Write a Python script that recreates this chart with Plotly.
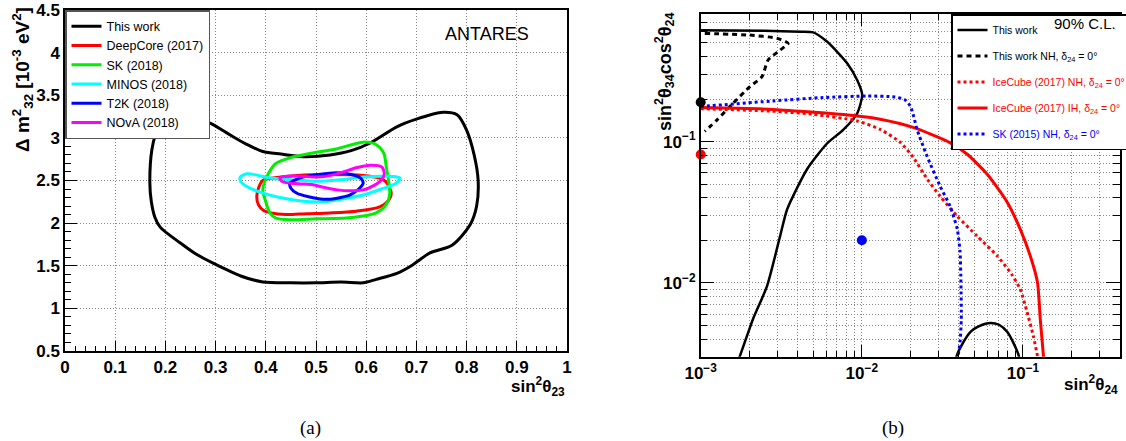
import numpy as np
import plotly.graph_objects as go

# ---------------- Panel (a) data ----------------
this_work_a_x = [0.169, 0.173, 0.180, 0.189, 0.205, 0.229, 0.260, 0.290, 0.330, 0.360, 0.394, 0.430, 0.474,
                 0.528, 0.570, 0.608, 0.661, 0.700, 0.753, 0.781, 0.800, 0.815, 0.823, 0.820, 0.807, 0.771,
                 0.727, 0.690, 0.661, 0.620, 0.594, 0.550, 0.500, 0.450, 0.394, 0.350, 0.295, 0.260, 0.229,
                 0.190, 0.179, 0.172, 0.169]
this_work_a_y = [2.47, 2.86, 3.03, 3.13, 3.21, 3.25, 3.23, 3.17, 3.03, 2.93, 2.84, 2.81, 2.78,
                 2.80, 2.85, 2.94, 3.13, 3.22, 3.30, 3.27, 3.09, 2.80, 2.50, 2.20, 1.98, 1.74,
                 1.65, 1.50, 1.41, 1.34, 1.30, 1.31, 1.30, 1.30, 1.31, 1.38, 1.53, 1.64, 1.77,
                 1.95, 2.07, 2.25, 2.47]

deepcore_x = [0.382, 0.386, 0.394, 0.430, 0.462, 0.530, 0.594, 0.625, 0.640, 0.650, 0.645, 0.627, 0.580,
              0.528, 0.480, 0.440, 0.410, 0.395, 0.385, 0.382]
deepcore_y = [2.31, 2.42, 2.50, 2.54, 2.56, 2.57, 2.56, 2.53, 2.48, 2.35, 2.27, 2.19, 2.14,
              2.12, 2.11, 2.10, 2.12, 2.15, 2.22, 2.31]

sk_x = [0.394, 0.405, 0.420, 0.450, 0.490, 0.540, 0.594, 0.620, 0.635, 0.640, 0.647, 0.640, 0.620,
        0.590, 0.560, 0.500, 0.448, 0.420, 0.408, 0.400, 0.394]
sk_y = [2.39, 2.58, 2.70, 2.77, 2.82, 2.87, 2.95, 2.92, 2.82, 2.66, 2.35, 2.22, 2.12,
        2.08, 2.06, 2.05, 2.04, 2.06, 2.12, 2.25, 2.39]

minos_x = [0.349, 0.362, 0.385, 0.408, 0.450, 0.502, 0.550, 0.594, 0.640, 0.667, 0.660, 0.630, 0.594,
           0.550, 0.514, 0.470, 0.428, 0.390, 0.362, 0.350, 0.349]
minos_y = [2.54, 2.58, 2.56, 2.53, 2.51, 2.49, 2.51, 2.54, 2.55, 2.53, 2.47, 2.40, 2.33,
           2.28, 2.25, 2.26, 2.30, 2.36, 2.43, 2.49, 2.54]

t2k_x = [0.448, 0.460, 0.474, 0.505, 0.542, 0.570, 0.588, 0.594, 0.585, 0.568, 0.540, 0.514, 0.485,
         0.462, 0.450, 0.448]
t2k_y = [2.47, 2.51, 2.54, 2.57, 2.59, 2.57, 2.53, 2.47, 2.40, 2.33, 2.29, 2.28, 2.31,
         2.35, 2.41, 2.47]

nova_x = [0.428, 0.442, 0.470, 0.502, 0.530, 0.554, 0.580, 0.608, 0.631, 0.636, 0.631, 0.615, 0.594,
          0.570, 0.542, 0.515, 0.494, 0.470, 0.448, 0.432, 0.428]
nova_y = [2.53, 2.55, 2.55, 2.54, 2.56, 2.60, 2.65, 2.68, 2.66, 2.58, 2.51, 2.44, 2.39,
          2.38, 2.39, 2.42, 2.45, 2.46, 2.47, 2.49, 2.53]

x_ticks_a = [0, 0.1, 0.2, 0.3, 0.4, 0.5, 0.6, 0.7, 0.8, 0.9, 1]
x_ticklabels_a = ["0", "0.1", "0.2", "0.3", "0.4", "0.5", "0.6", "0.7", "0.8", "0.9", "1"]
y_ticks_a = [0.5, 1, 1.5, 2, 2.5, 3, 3.5, 4, 4.5]
y_ticklabels_a = ["0.5", "1", "1.5", "2", "2.5", "3", "3.5", "4", "4.5"]

# ---------------- Panel (b) data ----------------
tw_b_x = [0.00100, 0.00250, 0.00420, 0.00499, 0.00610, 0.00703, 0.00811, 0.00935, 0.01005, 0.00935,
          0.00766, 0.00610, 0.00457, 0.00344, 0.00311, 0.00258, 0.00211, 0.00175, 0.00168]
tw_b_y = [0.615, 0.608, 0.600, 0.593, 0.509, 0.432, 0.358, 0.273, 0.214, 0.158,
          0.121, 0.0973, 0.0637, 0.0332, 0.0214, 0.00948, 0.00553, 0.00303, 0.0027]

tw_b2_x = [0.0380, 0.0391, 0.0471, 0.0560, 0.0627, 0.0710, 0.0800, 0.0935, 0.0960]
tw_b2_y = [0.0027, 0.00313, 0.00448, 0.00505, 0.00519, 0.00505, 0.00448, 0.00313, 0.0027]

twnh_b_x = [0.00106, 0.00202, 0.00298, 0.00349, 0.00311, 0.00262, 0.00240, 0.00202, 0.00159, 0.00126,
            0.00106]
twnh_b_y = [0.583, 0.567, 0.538, 0.496, 0.444, 0.378, 0.288, 0.245, 0.187, 0.142,
            0.118]

icnh_x = [0.00100, 0.00281, 0.00499, 0.00935, 0.0130, 0.0173, 0.0208, 0.0255, 0.0306, 0.0391,
          0.0520, 0.0692, 0.0850, 0.0961, 0.106, 0.116, 0.123, 0.125]
icnh_y = [0.171, 0.164, 0.156, 0.140, 0.122, 0.0989, 0.0775, 0.0541, 0.0410, 0.0296,
          0.0214, 0.0155, 0.0115, 0.00902, 0.00621, 0.00420, 0.00303, 0.0027]

icih_x = [0.00100, 0.00281, 0.00883, 0.0130, 0.0208, 0.0339, 0.0451, 0.0600, 0.0798, 0.0961,
          0.111, 0.123, 0.128, 0.134, 0.135]
icih_y = [0.174, 0.169, 0.153, 0.144, 0.126, 0.1005, 0.0813, 0.0587, 0.0372, 0.0240,
          0.0155, 0.0101, 0.00553, 0.00303, 0.0027]

sk_b_x = [0.00100, 0.00281, 0.00575, 0.0108, 0.0160, 0.0185, 0.0200, 0.0210, 0.0220, 0.0254,
          0.0306, 0.0353, 0.0391, 0.0407, 0.0412, 0.0414, 0.0407, 0.0396, 0.0394]
sk_b_y = [0.177, 0.194, 0.205, 0.210, 0.207, 0.198, 0.178, 0.150, 0.122, 0.0787,
          0.0483, 0.0348, 0.0240, 0.0165, 0.0100, 0.00553, 0.00381, 0.00303, 0.0027]

bf_x = [0.001, 0.001, 0.01]
bf_y = [0.19, 0.081, 0.02]
bf_colors = ["black", "red", "blue"]

x_ticks_b = [0.001, 0.01, 0.1]
x_ticklabels_b = ["10<sup>\u22123</sup>", "10<sup>\u22122</sup>", "10<sup>\u22121</sup>"]
y_ticks_b = [0.01, 0.1]
y_ticklabels_b = ["10<sup>\u22122</sup>", "10<sup>\u22121</sup>"]
minor_x_b = [m * 10.0 ** e for e in (-3, -2, -1) for m in range(2, 10) if m * 10.0 ** e < 0.4]
minor_y_b = [m * 10.0 ** e for e in (-3, -2, -1) for m in range(2, 10) if 0.003 <= m * 10.0 ** e <= 0.8]

# ---------------- Figure ----------------
W, H = 1126, 441
SANS = "Liberation Sans, Arial, sans-serif"
fig = go.Figure()

lw = 3
for name, xs, ys, col in [
    ("This work", this_work_a_x, this_work_a_y, "black"),
    ("DeepCore (2017)", deepcore_x, deepcore_y, "#ff0000"),
    ("SK (2018)", sk_x, sk_y, "#00ee00"),
    ("MINOS (2018)", minos_x, minos_y, "#00ffff"),
    ("T2K (2018)", t2k_x, t2k_y, "#0000ff"),
    ("NOvA (2018)", nova_x, nova_y, "#ff00ff"),
]:
    fig.add_trace(go.Scatter(x=xs, y=ys, mode="lines", name=name,
                             line=dict(color=col, width=lw, shape="spline", smoothing=0.8),
                             xaxis="x", yaxis="y", legend="legend"))

def span(txt, col):
    return f"<span style='color:{col}'>{txt}</span>"

d24 = "\u03b4<sub>24</sub> = 0\u00b0"
right_traces = [
    ("This work", tw_b_x, tw_b_y, "black", "solid", 2.5),
    ("This work NH, " + d24, twnh_b_x, twnh_b_y, "black", "5px,4px", 3),
    (span("IceCube (2017) NH, " + d24, "red"), icnh_x, icnh_y, "red", "dot", 3),
    (span("IceCube (2017) IH, " + d24, "red"), icih_x, icih_y, "red", "solid", 3),
    (span("SK (2015) NH, " + d24, "blue"), sk_b_x, sk_b_y, "blue", "dot", 3),
]
for i, (name, xs, ys, col, dash, w) in enumerate(right_traces):
    fig.add_trace(go.Scatter(x=xs, y=ys, mode="lines", name=name,
                             line=dict(color=col, width=w, dash=dash, shape="spline", smoothing=0.6),
                             xaxis="x2", yaxis="y2", legend="legend2", legendgroup=f"g{i}"))
    if i == 0:
        fig.add_trace(go.Scatter(x=tw_b2_x, y=tw_b2_y, mode="lines", showlegend=False,
                                 line=dict(color="black", width=2.5, shape="spline", smoothing=0.8),
                                 xaxis="x2", yaxis="y2", legendgroup="g0"))

fig.add_trace(go.Scatter(x=bf_x, y=bf_y, mode="markers", showlegend=False,
                         marker=dict(color=bf_colors, size=10), cliponaxis=False,
                         xaxis="x2", yaxis="y2"))

GRIDDASH = "1px,2px"
grid = dict(showgrid=True, gridcolor="#888888", griddash=GRIDDASH, gridwidth=1)
axline = dict(showline=True, linecolor="black", linewidth=1.5, zeroline=False, automargin=False)
tickfont = dict(family=SANS, size=17, color="black", weight="bold")

dom_ax = [65 / W, 567 / W]
dom_ay = [1 - 351 / H, 1 - 10 / H]
dom_bx = [700.7 / W, 1120 / W]
dom_by = [1 - 356.7 / H, 1 - 14 / H]

fig.update_layout(
    width=W, height=H, margin=dict(l=0, r=0, t=0, b=0, autoexpand=False),
    paper_bgcolor="white", plot_bgcolor="white",
    font=dict(family=SANS, color="black"),
    xaxis=dict(domain=dom_ax, anchor="y", range=[0, 1], tickmode="array", tickvals=x_ticks_a,
               ticktext=x_ticklabels_a, ticks="inside", ticklen=10, tickcolor="black",
               tickfont=tickfont, mirror=True,
               minor=dict(ticks="inside", dtick=0.02, ticklen=5, tickcolor="black", showgrid=False),
               **grid, **axline),
    yaxis=dict(domain=dom_ay, anchor="x", range=[0.5, 4.5], tickmode="array", tickvals=y_ticks_a,
               ticktext=y_ticklabels_a, ticks="inside", ticklen=12, tickcolor="black",
               tickfont=tickfont, mirror=True,
               minor=dict(ticks="inside", dtick=0.1, ticklen=6, tickcolor="black", showgrid=False),
               **grid, **axline),
    xaxis2=dict(domain=dom_bx, anchor="y2", type="log", range=[-3, np.log10(0.4)], tickmode="array",
                tickvals=x_ticks_b, ticktext=x_ticklabels_b, ticks="inside", ticklen=12,
                tickcolor="black", tickfont=tickfont, mirror="ticks",
                minor=dict(ticks="inside", tickvals=minor_x_b, ticklen=6, tickcolor="black",
                           showgrid=True, gridcolor="#888888", griddash=GRIDDASH),
                **grid, **axline),
    yaxis2=dict(domain=dom_by, anchor="x2", type="log", range=[np.log10(0.003), np.log10(0.8)],
                tickmode="array", tickvals=y_ticks_b, ticktext=y_ticklabels_b, ticks="inside",
                ticklen=14, tickcolor="black", tickfont=tickfont, mirror="ticks",
                minor=dict(ticks="inside", tickvals=minor_y_b, ticklen=7, tickcolor="black",
                           showgrid=True, gridcolor="#888888", griddash=GRIDDASH),
                **grid, **axline),
    legend=dict(x=65 / W, y=1 - 10 / H, xanchor="left", yanchor="top", bgcolor="white",
                bordercolor="#555555", borderwidth=1.5, font=dict(family=SANS, size=12.5),
                itemwidth=30, tracegroupgap=0),
    legend2=dict(x=951 / W, y=1 - 14 / H, xanchor="left", yanchor="top", bgcolor="white",
                 bordercolor="black", borderwidth=1.5, font=dict(family=SANS, size=10.5),
                 itemwidth=30, tracegroupgap=7),
)

ann = []
ann.append(dict(text="ANTARES", x=487 / W, y=1 - 34 / H, xref="paper", yref="paper", showarrow=False,
                font=dict(family=SANS, size=18), xanchor="center", yanchor="middle"))
ann.append(dict(text="90% C.L.", x=1118 / W, y=1 - 24 / H, xref="paper", yref="paper", showarrow=False,
                font=dict(family=SANS, size=15), xanchor="right", yanchor="middle"))
ann.append(dict(text="\u0394 m<sup>2</sup><sub>32</sub> [10<sup>-3</sup> eV<sup>2</sup>]",
                x=22 / W, y=1 - 80 / H, xref="paper", yref="paper", showarrow=False, textangle=-90,
                font=dict(family=SANS, size=19, weight="bold"), xanchor="center", yanchor="middle"))
ann.append(dict(text="sin<sup>2</sup>\u03b8<sub>23</sub>", x=567 / W, y=1 - 386 / H, xref="paper",
                yref="paper", showarrow=False, font=dict(family=SANS, size=17, weight="bold"),
                xanchor="right", yanchor="middle"))
ann.append(dict(text="sin<sup>2</sup>\u03b8<sub>34</sub>cos<sup>2</sup>\u03b8<sub>24</sub>",
                x=665 / W, y=1 - 72 / H, xref="paper", yref="paper", showarrow=False, textangle=-90,
                font=dict(family=SANS, size=18, weight="bold"), xanchor="center", yanchor="middle"))
ann.append(dict(text="sin<sup>2</sup>\u03b8<sub>24</sub>", x=1120 / W, y=1 - 384 / H, xref="paper",
                yref="paper", showarrow=False, font=dict(family=SANS, size=17, weight="bold"),
                xanchor="right", yanchor="middle"))
ann.append(dict(text="(a)", x=310 / W, y=1 - 428 / H, xref="paper", yref="paper", showarrow=False,
                font=dict(family="Liberation Serif, serif", size=19), xanchor="center", yanchor="middle"))
ann.append(dict(text="(b)", x=893 / W, y=1 - 428 / H, xref="paper", yref="paper", showarrow=False,
                font=dict(family="Liberation Serif, serif", size=19), xanchor="center", yanchor="middle"))
fig.update_layout(annotations=ann)

fig.write_html("out.html")
